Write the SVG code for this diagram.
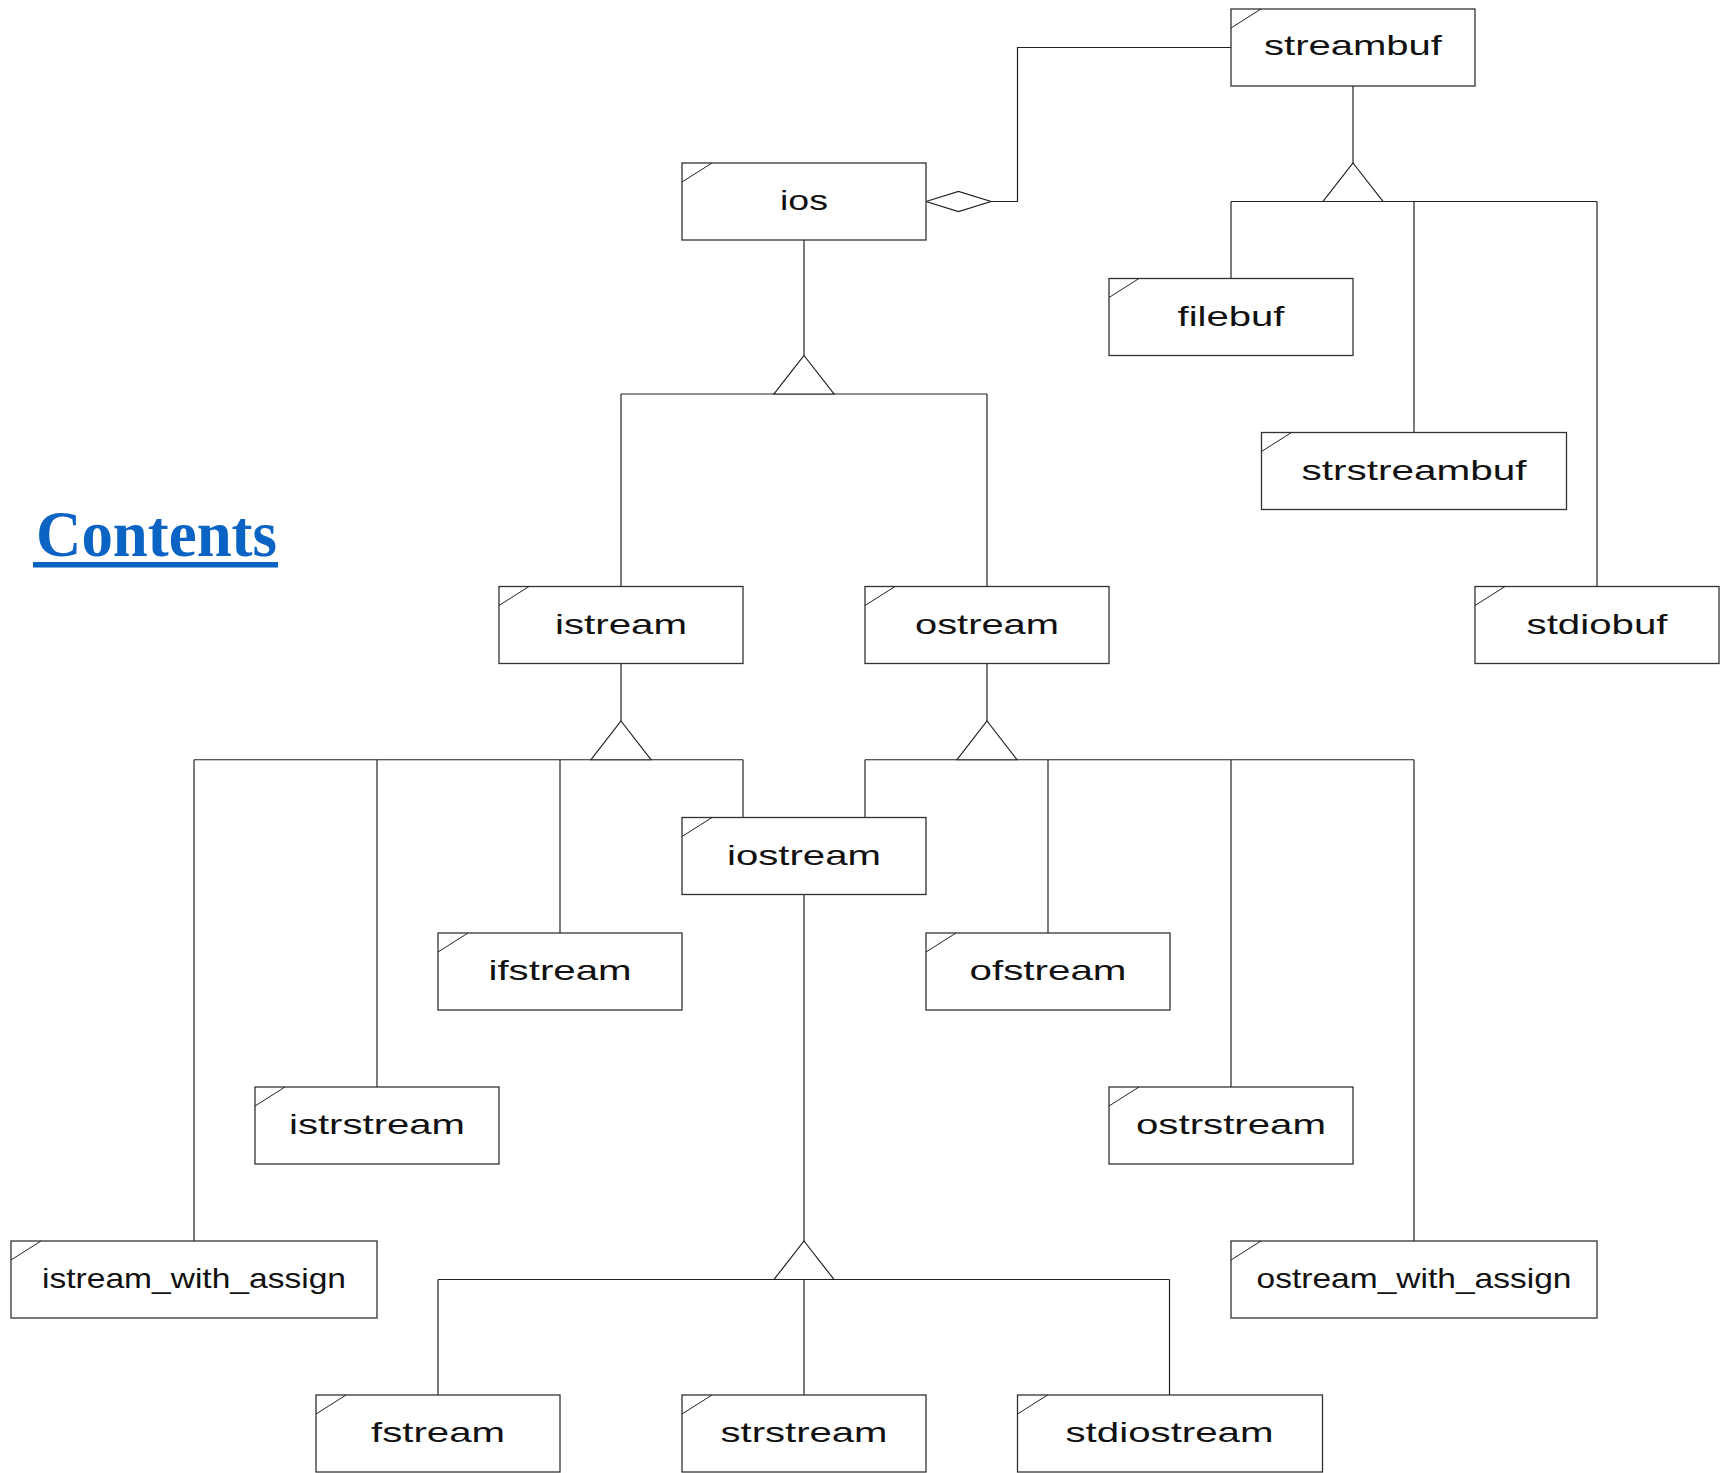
<svg xmlns="http://www.w3.org/2000/svg" width="1726" height="1473" viewBox="0 0 1726 1473">
<style>
.box rect{fill:#fff;stroke:#333;stroke-width:1.3}
.box line{stroke:#222;stroke-width:1}
.box text{font-family:"Liberation Sans",Arial,sans-serif;font-size:28px;fill:#111;text-anchor:middle}
.conn line,.conn polyline{stroke:#222;stroke-width:1.2;fill:none}
.conn polygon{fill:#fff;stroke:#222;stroke-width:1.2}
.title{font-family:"Liberation Serif","Times New Roman",serif;font-weight:bold;font-size:66px;fill:#0b63c4}
</style>
<rect width="1726" height="1473" fill="#fff"/>
<g id="contents">
<text class="title" x="36" y="556" textLength="241" lengthAdjust="spacingAndGlyphs">Contents</text>
<rect x="33" y="562" width="245" height="5.5" fill="#0b63c4"/>
</g>
<g id="connectors" class="conn">
<polyline points="1231,47.5 1017.5,47.5 1017.5,201.5 991,201.5"/>
<polygon points="926,201.5 958.5,191.5 991,201.5 958.5,211.5"/>
<line x1="1353" y1="86" x2="1353" y2="163"/>
<line x1="1231" y1="201.5" x2="1597" y2="201.5"/>
<line x1="1231" y1="201.5" x2="1231" y2="278.5"/>
<line x1="1414" y1="201.5" x2="1414" y2="432.5"/>
<line x1="1597" y1="201.5" x2="1597" y2="586.5"/>
<polygon points="1353,163 1383,201.5 1323,201.5"/>
<line x1="804" y1="240" x2="804" y2="355.5"/>
<line x1="621" y1="394" x2="987" y2="394"/>
<line x1="621" y1="394" x2="621" y2="586.5"/>
<line x1="987" y1="394" x2="987" y2="586.5"/>
<polygon points="804,355.5 834,394 774,394"/>
<line x1="621" y1="663.5" x2="621" y2="721"/>
<line x1="194" y1="759.75" x2="743" y2="759.75"/>
<line x1="194" y1="759.75" x2="194" y2="1241"/>
<line x1="377" y1="759.75" x2="377" y2="1087"/>
<line x1="560" y1="759.75" x2="560" y2="933"/>
<line x1="743" y1="759.75" x2="743" y2="817.5"/>
<polygon points="621,721 651,759.75 591,759.75"/>
<line x1="987" y1="663.5" x2="987" y2="721"/>
<line x1="865" y1="759.75" x2="1414" y2="759.75"/>
<line x1="865" y1="759.75" x2="865" y2="817.5"/>
<line x1="1048" y1="759.75" x2="1048" y2="933"/>
<line x1="1231" y1="759.75" x2="1231" y2="1087"/>
<line x1="1414" y1="759.75" x2="1414" y2="1241"/>
<polygon points="987,721 1017,759.75 957,759.75"/>
<line x1="804" y1="894.5" x2="804" y2="1241"/>
<line x1="438" y1="1279.5" x2="1169.5" y2="1279.5"/>
<line x1="438" y1="1279.5" x2="438" y2="1395"/>
<line x1="804" y1="1279.5" x2="804" y2="1395"/>
<line x1="1169.5" y1="1279.5" x2="1169.5" y2="1395"/>
<polygon points="804,1241 834,1279.5 774,1279.5"/>
</g>
<g id="streambuf" class="box"><rect x="1231" y="9" width="244" height="77"/><line x1="1231" y1="28" x2="1261" y2="9"/><text x="1353" y="55" textLength="178" lengthAdjust="spacingAndGlyphs">streambuf</text></g>
<g id="ios" class="box"><rect x="682" y="163" width="244" height="77"/><line x1="682" y1="182" x2="712" y2="163"/><text x="804" y="209.5" textLength="48" lengthAdjust="spacingAndGlyphs">ios</text></g>
<g id="filebuf" class="box"><rect x="1109" y="278.5" width="244" height="77"/><line x1="1109" y1="297.5" x2="1139" y2="278.5"/><text x="1231" y="325.5" textLength="107" lengthAdjust="spacingAndGlyphs">filebuf</text></g>
<g id="strstreambuf" class="box"><rect x="1261.5" y="432.5" width="305" height="77"/><line x1="1261.5" y1="451.5" x2="1291.5" y2="432.5"/><text x="1414" y="479.5" textLength="225" lengthAdjust="spacingAndGlyphs">strstreambuf</text></g>
<g id="stdiobuf" class="box"><rect x="1475" y="586.5" width="244" height="77"/><line x1="1475" y1="605.5" x2="1505" y2="586.5"/><text x="1597" y="633.5" textLength="141" lengthAdjust="spacingAndGlyphs">stdiobuf</text></g>
<g id="istream" class="box"><rect x="499" y="586.5" width="244" height="77"/><line x1="499" y1="605.5" x2="529" y2="586.5"/><text x="621" y="633.5" textLength="132" lengthAdjust="spacingAndGlyphs">istream</text></g>
<g id="ostream" class="box"><rect x="865" y="586.5" width="244" height="77"/><line x1="865" y1="605.5" x2="895" y2="586.5"/><text x="987" y="633.5" textLength="144" lengthAdjust="spacingAndGlyphs">ostream</text></g>
<g id="iostream" class="box"><rect x="682" y="817.5" width="244" height="77"/><line x1="682" y1="836.5" x2="712" y2="817.5"/><text x="804" y="864.5" textLength="154" lengthAdjust="spacingAndGlyphs">iostream</text></g>
<g id="ifstream" class="box"><rect x="438" y="933" width="244" height="77"/><line x1="438" y1="952" x2="468" y2="933"/><text x="560" y="980" textLength="143" lengthAdjust="spacingAndGlyphs">ifstream</text></g>
<g id="ofstream" class="box"><rect x="926" y="933" width="244" height="77"/><line x1="926" y1="952" x2="956" y2="933"/><text x="1048" y="980" textLength="157" lengthAdjust="spacingAndGlyphs">ofstream</text></g>
<g id="istrstream" class="box"><rect x="255" y="1087" width="244" height="77"/><line x1="255" y1="1106" x2="285" y2="1087"/><text x="377" y="1134" textLength="176" lengthAdjust="spacingAndGlyphs">istrstream</text></g>
<g id="ostrstream" class="box"><rect x="1109" y="1087" width="244" height="77"/><line x1="1109" y1="1106" x2="1139" y2="1087"/><text x="1231" y="1134" textLength="190" lengthAdjust="spacingAndGlyphs">ostrstream</text></g>
<g id="istream_with_assign" class="box"><rect x="11" y="1241" width="366" height="77"/><line x1="11" y1="1260" x2="41" y2="1241"/><text x="194" y="1287.5" textLength="304" lengthAdjust="spacingAndGlyphs">istream_with_assign</text></g>
<g id="ostream_with_assign" class="box"><rect x="1231" y="1241" width="366" height="77"/><line x1="1231" y1="1260" x2="1261" y2="1241"/><text x="1414" y="1287.5" textLength="315" lengthAdjust="spacingAndGlyphs">ostream_with_assign</text></g>
<g id="fstream" class="box"><rect x="316" y="1395" width="244" height="77"/><line x1="316" y1="1414" x2="346" y2="1395"/><text x="438" y="1442" textLength="134" lengthAdjust="spacingAndGlyphs">fstream</text></g>
<g id="strstream" class="box"><rect x="682" y="1395" width="244" height="77"/><line x1="682" y1="1414" x2="712" y2="1395"/><text x="804" y="1442" textLength="167" lengthAdjust="spacingAndGlyphs">strstream</text></g>
<g id="stdiostream" class="box"><rect x="1017.5" y="1395" width="305" height="77"/><line x1="1017.5" y1="1414" x2="1047.5" y2="1395"/><text x="1169.5" y="1442" textLength="208" lengthAdjust="spacingAndGlyphs">stdiostream</text></g>
</svg>
